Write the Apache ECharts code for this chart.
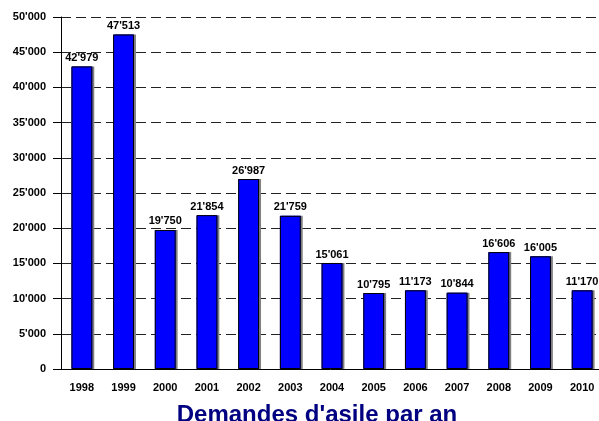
<!DOCTYPE html>
<html>
<head>
<meta charset="utf-8">
<script src="https://cdn.jsdelivr.net/npm/echarts@6/dist/echarts.min.js"></script>
<style>
  html, body { margin: 0; padding: 0; background: #fff; }
  #main { width: 599px; height: 421px; }
</style>
</head>
<body>
<div id="main"></div>
<script>
var years = ['1998', '1999', '2000', '2001', '2002', '2003', '2004', '2005', '2006', '2007', '2008', '2009', '2010'];
var demandes = [42979, 47513, 19750, 21854, 26987, 21759, 15061, 10795, 11173, 10844, 16606, 16005, 11170];
var yMax = 50000;
var yStep = 5000;

// 12'345 style
function swiss(v) {
  return String(v).replace(/\B(?=(\d{3})+(?!\d))/g, "'");
}

var myChart = echarts.init(document.getElementById('main'));
myChart.setOption({
  animation: false,
  textStyle: { fontFamily: 'Liberation Sans, Arial, sans-serif' },
  title: {
    text: "Demandes d'asile par an",
    left: 312,
    top: 398,
    textAlign: 'center',
    textStyle: { fontSize: 24, fontWeight: 'bold', color: '#000080', fontFamily: 'Liberation Sans, Arial, sans-serif' }
  },
  grid: { left: 61, top: 17, width: 542, height: 352, outerBoundsMode: 'none' },
  xAxis: {
    type: 'category',
    data: years,
    axisLine: { lineStyle: { color: '#000', width: 1 } },
    axisTick: { alignWithLabel: true, length: 8, lineStyle: { color: '#000' } },
    axisLabel: { color: '#000', fontSize: 11, fontWeight: 'bold', margin: 13 }
  },
  yAxis: {
    type: 'value',
    min: 0,
    max: yMax,
    interval: yStep,
    axisLine: { show: true, lineStyle: { color: '#000', width: 1 } },
    axisTick: { show: true, inside: false, length: 8, lineStyle: { color: '#000' } },
    axisLabel: { color: '#000', fontSize: 11, fontWeight: 'bold', margin: 15, formatter: swiss },
    splitLine: { show: true, lineStyle: { color: '#222', type: [10, 5], width: 1 } }
  },
  series: [{
    // fill + gray drop shadow on the right
    type: 'bar',
    data: demandes,
    barWidth: '50%',
    itemStyle: {
      color: '#0000ff',
      borderWidth: 0,
      shadowColor: '#808080',
      shadowOffsetX: 2,
      shadowOffsetY: 0,
      shadowBlur: 0
    },
    label: {
      show: true,
      position: 'top',
      distance: 3,
      color: '#000',
      fontSize: 11,
      fontWeight: 'bold',
      formatter: function (p) { return swiss(p.value); }
    }
  }, {
    // black outline on top, no shadow
    type: 'bar',
    data: demandes,
    barWidth: '50%',
    barGap: '-100%',
    silent: true,
    itemStyle: { color: 'transparent', borderColor: '#000', borderWidth: 1 }
  }]
});
</script>
</body>
</html>
